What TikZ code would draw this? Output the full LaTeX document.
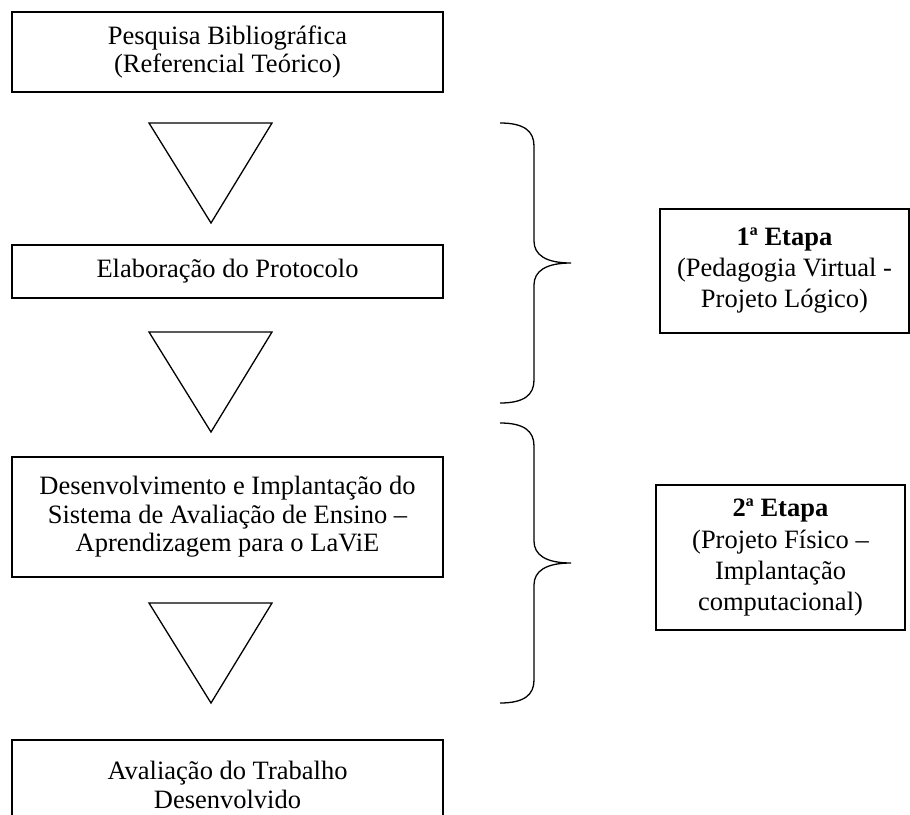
\documentclass[tikz,border=0pt]{standalone}
\usepackage{fontspec}
\setmainfont{Liberation Serif}
\begin{document}
\begin{tikzpicture}[x=1pt,y=-1pt,
  box/.style={draw, line width=1.7pt, inner sep=0pt, align=center,
    font=\fontsize{26.5}{28.5}\selectfont},
  rbox/.style={box, font=\fontsize{26.5}{31}\selectfont},
  tri/.style={draw, line width=1.3pt, line join=miter},
  brace/.style={draw, line width=1.3pt}]
\useasboundingbox (0,0) rectangle (910,814);
\clip (0,0) rectangle (910,814);

% left column boxes
\node[box, minimum width=431pt, minimum height=80pt] (b1) at (227.5,52)
  {Pesquisa Bibliográfica\\(Referencial Teórico)};
\node[box, minimum width=431pt, minimum height=53pt] (b2) at (227.5,271.5)
  {Elaboração do Protocolo};
\node[box, minimum width=431pt, minimum height=120pt] (b3) at (227.5,517)
  {Desenvolvimento e Implantação do\\Sistema de Avaliação de Ensino –\\Aprendizagem para o LaViE};
\node[box, minimum width=431pt, minimum height=90pt] (b4) at (227.5,785)
  {Avaliação do Trabalho\\Desenvolvido};

% triangles
\coordinate (t1a) at (149,123); \coordinate (t1b) at (272,123); \coordinate (t1c) at (211,223);
\coordinate (t2a) at (149,332); \coordinate (t2b) at (272,332); \coordinate (t2c) at (211,432);
\coordinate (t3a) at (149,603); \coordinate (t3b) at (272,603); \coordinate (t3c) at (211,703);
\draw[tri] (t1a) -- (t1b) -- (t1c) -- cycle;
\draw[tri] (t2a) -- (t2b) -- (t2c) -- cycle;
\draw[tri] (t3a) -- (t3b) -- (t3c) -- cycle;

% braces
\coordinate (br1top) at (500,123); \coordinate (br1tip) at (571,263); \coordinate (br1bot) at (500,403);
\draw[brace] (br1top) .. controls (524,123) and (534,131) .. (534,146) -- (534,241)
  .. controls (534,255) and (546,263) .. (br1tip)
  .. controls (546,263) and (534,271) .. (534,285) -- (534,380)
  .. controls (534,395) and (524,403) .. (br1bot);
\coordinate (br2top) at (500,423); \coordinate (br2tip) at (571,563); \coordinate (br2bot) at (500,703);
\draw[brace] (br2top) .. controls (524,423) and (534,431) .. (534,446) -- (534,541)
  .. controls (534,555) and (546,563) .. (br2tip)
  .. controls (546,563) and (534,571) .. (534,585) -- (534,680)
  .. controls (534,695) and (524,703) .. (br2bot);

% right boxes
\node[rbox, minimum width=249pt, minimum height=124pt] (e1) at (784.5,271)
  {\textbf{1ª Etapa}\\(Pedagogia Virtual -\\Projeto Lógico)};
\node[rbox, minimum width=249pt, minimum height=145pt] (e2) at (780.5,557.5)
  {\textbf{2ª Etapa}\\(Projeto Físico –\\Implantação\\computacional)};
\end{tikzpicture}
\end{document}
